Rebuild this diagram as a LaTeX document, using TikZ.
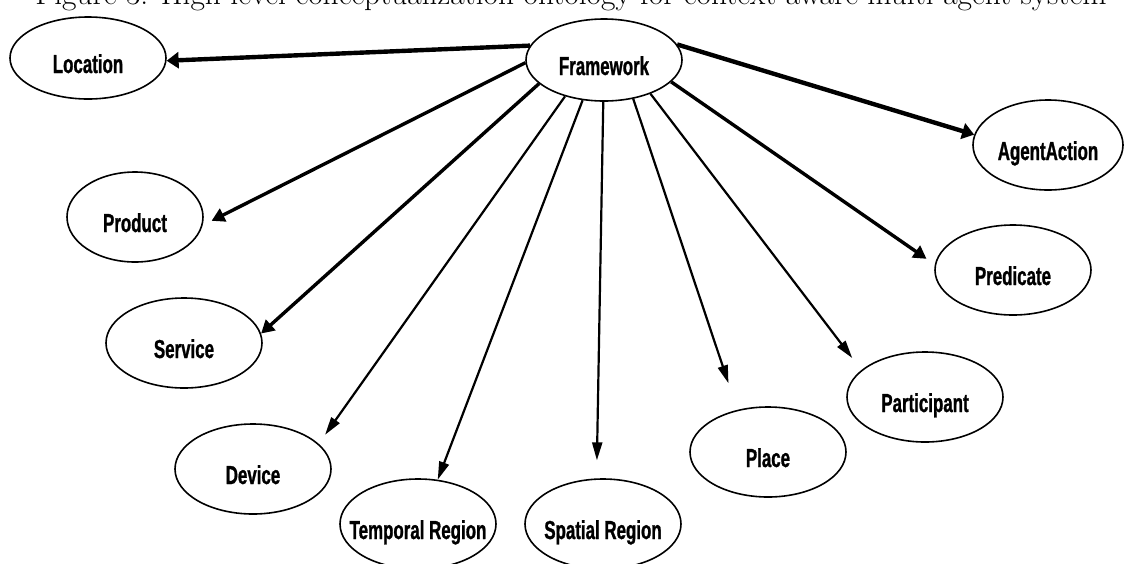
\documentclass[tikz,border=0pt]{standalone}
\usepackage{fontspec}
\newfontfamily\narrowbf{Liberation Sans}[FakeStretch=0.65, FakeBold=1]
\usetikzlibrary{shapes.geometric,arrows.meta}
\newcommand{\mklabel}[1]{\makebox[0pt]{#1}}

\begin{document}
\begin{tikzpicture}[x=25pt,y=25pt,
  concept/.style={ellipse, draw, line width=0.8pt, inner sep=0pt,
    minimum width=78pt, minimum height=45pt, text height=15pt, text depth=0pt,
    font=\narrowbf\bfseries\fontsize{13}{15}\selectfont},
  heavy/.style={line width=2.2pt, -{Triangle[length=6pt,width=8pt]}},
  medium/.style={line width=1.7pt, -{Triangle[length=6.5pt,width=7pt]}},
  light/.style={line width=1.1pt, -{Triangle[length=9pt,width=5pt]}}]
\useasboundingbox (0,0) rectangle (22.5,-11.26);

\node[anchor=base, font=\fontsize{15.7}{18}\selectfont] (cap) at (11.42,-0.08)
  {Figure 3: High level conceptualization ontology for context-aware multi-agent system};

\node[concept, minimum height=41pt] (fw) at (12.08,-1.2) {\mklabel{Framework}};
\node[concept, minimum height=41pt] (loc) at (1.76,-1.16) {\mklabel{Location}};
\node[concept, minimum width=68pt] (prod) at (2.7,-4.34) {\mklabel{Product}};
\node[concept] (serv) at (3.68,-6.86) {\mklabel{Service}};
\node[concept] (dev) at (5.06,-9.38) {\mklabel{Device}};
\node[concept] (temp) at (8.36,-10.48) {\mklabel{Temporal Region}};
\node[concept] (spat) at (12.06,-10.48) {\mklabel{Spatial Region}};
\node[concept] (place) at (15.36,-9.04) {\mklabel{Place}};
\node[concept] (part) at (18.5,-7.94) {\mklabel{Participant}};
\node[concept] (pred) at (20.26,-5.4) {\mklabel{Predicate}};
\node[concept, minimum width=75pt] (agent) at (20.96,-2.9) {\mklabel{AgentAction}};

\draw[heavy] (fw.169) -- (loc.358);
\draw[heavy] (fw.12) -- (agent.172);
\draw[medium, shorten >=5pt] (fw.182) -- (prod.353);
\draw[medium] (fw.200) -- (serv.7);
\draw[medium, shorten >=5pt] (fw.342) -- (pred.176);
\foreach \from/\to/\gap in {223/dev.21/5.5, 242/temp.66/0, 269/spat.98/9,
                           307/place.126/14, 324/part.157/7.5} {
	\draw[light, shorten >=\gap pt] (fw.\from) -- (\to);
}
\end{tikzpicture}
\end{document}
